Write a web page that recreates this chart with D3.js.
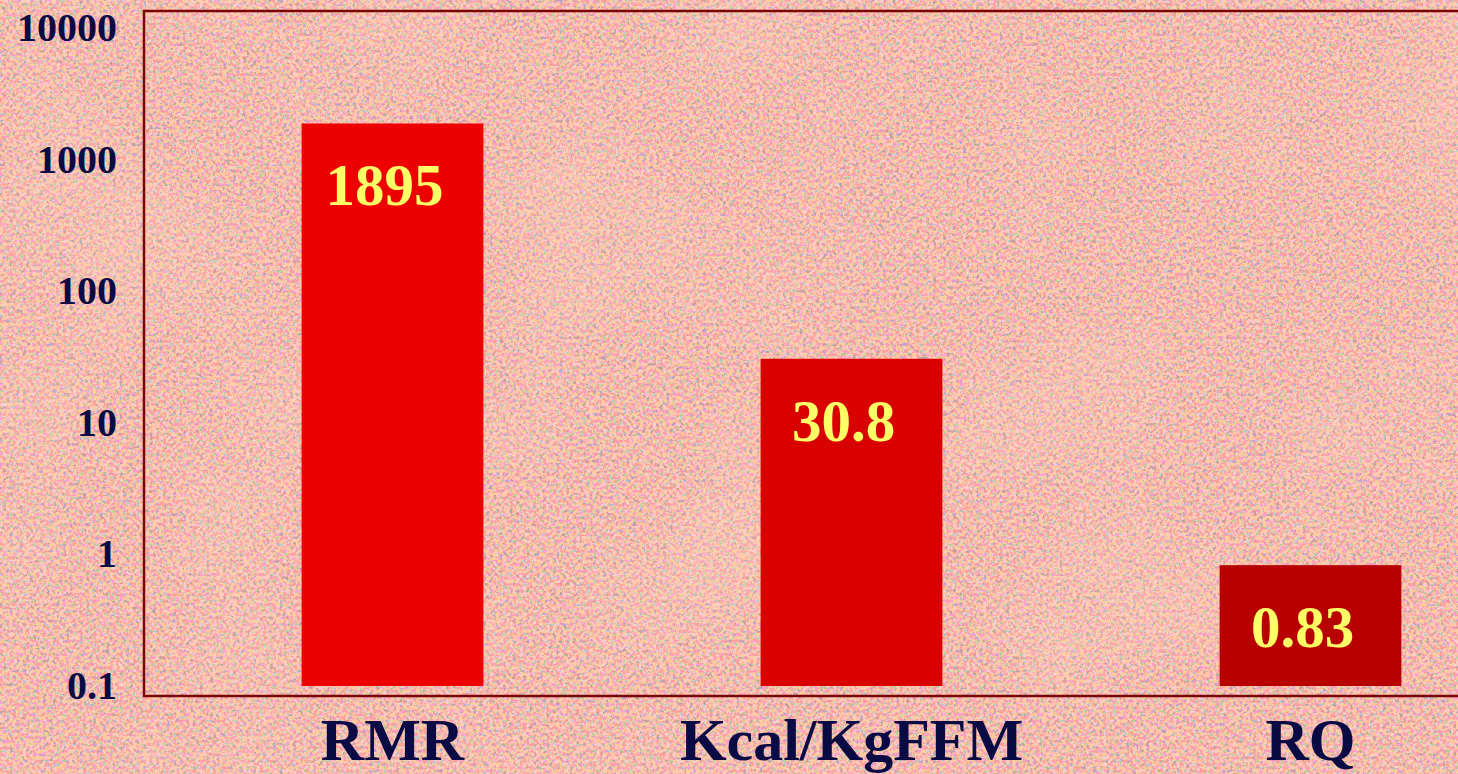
<!DOCTYPE html>
<html>
<head>
<meta charset="utf-8">
<script src="https://cdn.jsdelivr.net/npm/d3@7"></script>
<style>
  body { margin: 0; background: #fbb8a8; }
  svg { display: block; }
</style>
</head>
<body>
<div id="plot"></div>
<script>
// chart data
var categories = ["RMR", "Kcal/KgFFM", "RQ"]
var values = [1895, 30.8, 0.83]
var valueLabels = ["1895", "30.8", "0.83"]
var barColors = ["#ee0000", "#d90000", "#b80000"]
var yTicks = [0.1, 1, 10, 100, 1000, 10000]
var yTickLabels = ["0.1", "1", "10", "100", "1000", "10000"]

var width = 1458
var height = 774
var frame = {left: 144, top: 11, bottom: 696}
var serif = "'Liberation Serif', 'Times New Roman', serif"

var svg = d3.select("#plot").append("svg")
    .attr("width", width)
    .attr("height", height)

// textured slide background: fine grain + soft blotches
var defs = svg.append("defs")
var grain = defs.append("filter")
    .attr("id", "grain")
    .attr("x", 0).attr("y", 0).attr("width", "100%").attr("height", "100%")
    .attr("color-interpolation-filters", "sRGB")
grain.append("feTurbulence")
    .attr("type", "fractalNoise")
    .attr("baseFrequency", 0.3)
    .attr("numOctaves", 2)
    .attr("seed", 7)
grain.append("feColorMatrix")
    .attr("type", "matrix")
    .attr("values", "4 0 0 0 -1.5  0 4 0 0 -1.5  0 0 4 0 -1.5  0 0 0 0 1")
var ct = grain.append("feComponentTransfer")
ct.append("feFuncR").attr("type", "discrete").attr("tableValues", "0.63 0.7 0.79 0.8")
ct.append("feFuncG").attr("type", "discrete").attr("tableValues", "0.62 0.63 0.62 0.72 0.8")
ct.append("feFuncB").attr("type", "discrete").attr("tableValues", "0.76 1 1 1 1 1 1 1 1 1")
grain.append("feColorMatrix")
    .attr("type", "matrix")
    .attr("values", "0 0 1 0 0  1 0 0 0 0  0 1 0 0 0  0 0 0 0 1")

var blotch = defs.append("filter")
    .attr("id", "blotch")
    .attr("x", 0).attr("y", 0).attr("width", "100%").attr("height", "100%")
    .attr("color-interpolation-filters", "sRGB")
blotch.append("feTurbulence")
    .attr("type", "fractalNoise")
    .attr("baseFrequency", 0.006)
    .attr("numOctaves", 3)
    .attr("seed", 3)
blotch.append("feColorMatrix")
    .attr("type", "matrix")
    .attr("values", "0 0 0 0 1  0 0 0 0 0.86  0 0 0 0 0.78  3 0 0 0 -1.4")

svg.append("rect")
    .attr("width", width)
    .attr("height", height)
    .attr("fill", "#fbb8a8")
    .attr("filter", "url(#grain)")

svg.append("rect")
    .attr("width", width)
    .attr("height", height)
    .attr("fill", "#fff")
    .attr("opacity", 0.2)
    .attr("filter", "url(#blotch)")

// scales
var y = d3.scaleLog()
    .domain([0.1, 10000])
    .range([686, 28.5])

var x = d3.scaleBand()
    .domain(categories)
    .range([163, 1540])
    .paddingInner(0.604)
    .paddingOuter(0.302)

// plot frame
svg.append("rect")
    .attr("x", frame.left)
    .attr("y", frame.top)
    .attr("width", 1400)
    .attr("height", frame.bottom - frame.top)
    .attr("fill", "none")
    .attr("stroke", "#7a0505")
    .attr("stroke-width", 2.5)

// bars
svg.selectAll(".bar")
    .data(values)
    .enter().append("rect")
    .attr("class", "bar")
    .attr("x", function (d, i) { return x(categories[i]) })
    .attr("y", function (d) { return y(d) })
    .attr("width", x.bandwidth())
    .attr("height", function (d) { return y(0.1) - y(d) })
    .attr("fill", function (d, i) { return barColors[i] })

// value labels inside bars
svg.selectAll(".val")
    .data(values)
    .enter().append("text")
    .attr("class", "val")
    .attr("x", function (d, i) { return x(categories[i]) + x.bandwidth() / 2 - 8 })
    .attr("y", function (d) { return y(d) + 82 })
    .attr("text-anchor", "middle")
    .attr("fill", "#ffff66")
    .style("font-family", serif)
    .style("font-weight", "bold")
    .style("font-size", "59px")
    .text(function (d, i) { return valueLabels[i] })

// y axis
var yAxis = svg.append("g")
    .attr("transform", "translate(" + frame.left + ",0)")
    .call(d3.axisLeft(y)
        .tickValues(yTicks)
        .tickSize(0)
        .tickPadding(27)
        .tickFormat(function (d, i) { return yTickLabels[i] }))
yAxis.select(".domain").remove()
yAxis.selectAll("text")
    .attr("fill", "#0a0a45")
    .attr("dy", "0.3em")
    .style("font-family", serif)
    .style("font-weight", "bold")
    .style("font-size", "40px")

// x axis
var xAxis = svg.append("g")
    .attr("transform", "translate(0," + frame.bottom + ")")
    .call(d3.axisBottom(x).tickSize(0).tickPadding(0))
xAxis.select(".domain").remove()
xAxis.selectAll("text")
    .attr("fill", "#0a0a45")
    .attr("y", 64)
    .attr("dy", 0)
    .style("font-family", serif)
    .style("font-weight", "bold")
    .style("font-size", "60px")
</script>
</body>
</html>
